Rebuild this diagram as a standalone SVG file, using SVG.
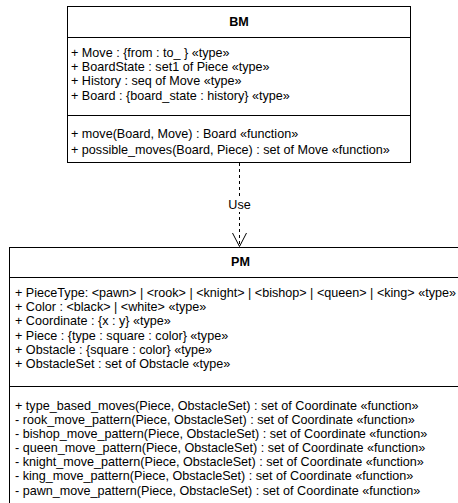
<svg xmlns="http://www.w3.org/2000/svg" width="458" height="503" viewBox="0 0 458 503">
<style>
.box{fill:#fff;stroke:#000;stroke-width:1}
.sep{stroke:#000;stroke-width:1}
text{font-family:"Liberation Sans",Arial,sans-serif;font-size:12.6px;fill:#000}
.title{font-weight:bold;text-anchor:middle}
.lbl{text-anchor:middle}
.dep{fill:none;stroke:#000;stroke-width:1;stroke-dasharray:3 3}
</style>
<rect width="458" height="503" fill="#fff"/>
<g id="connectors">
<line class="dep" x1="239.5" y1="163" x2="239.5" y2="246"/>
<rect x="226" y="197" width="27" height="15" fill="#fff"/>
<text class="lbl" x="239.5" y="209">Use</text>
<polyline fill="none" stroke="#000" stroke-width="1" points="232.5,233 239.5,246.5 246.5,233"/>
</g>
<g id="BM">
<rect class="box" x="67.5" y="6.5" width="343" height="156"/>
<line class="sep" x1="67.5" y1="37.5" x2="410.5" y2="37.5"/>
<line class="sep" x1="67.5" y1="115.5" x2="410.5" y2="115.5"/>
<text class="title" x="239" y="26">BM</text>
<text x="71" y="57">+ Move : {from : to_ } «type»</text>
<text x="71" y="71">+ BoardState : set1 of Piece «type»</text>
<text x="71" y="85">+ History : seq of Move «type»</text>
<text x="71" y="99.5">+ Board : {board_state : history} «type»</text>
<text x="71" y="137.5">+ move(Board, Move) : Board «function»</text>
<text x="71" y="153.5">+ possible_moves(Board, Piece) : set of Move «function»</text>
</g>
<g id="PM">
<rect class="box" x="9.5" y="247.5" width="462" height="270"/>
<line class="sep" x1="9.5" y1="277.5" x2="471.5" y2="277.5"/>
<line class="sep" x1="9.5" y1="386.5" x2="471.5" y2="386.5"/>
<text class="title" x="240.5" y="266">PM</text>
<text x="15" y="297">+ PieceType: &lt;pawn&gt; | &lt;rook&gt; | &lt;knight&gt; | &lt;bishop&gt; | &lt;queen&gt; | &lt;king&gt; «type»</text>
<text x="15" y="311">+ Color : &lt;black&gt; | &lt;white&gt; «type»</text>
<text x="15" y="325">+ Coordinate : {x : y} «type»</text>
<text x="15" y="340">+ Piece : {type : square : color} «type»</text>
<text x="15" y="354">+ Obstacle : {square : color} «type»</text>
<text x="15" y="368">+ ObstacleSet : set of Obstacle «type»</text>
<text x="15" y="410">+ type_based_moves(Piece, ObstacleSet) : set of Coordinate «function»</text>
<text x="15" y="424">- rook_move_pattern(Piece, ObstacleSet) : set of Coordinate «function»</text>
<text x="15" y="438">- bishop_move_pattern(Piece, ObstacleSet) : set of Coordinate «function»</text>
<text x="15" y="452">- queen_move_pattern(Piece, ObstacleSet) : set of Coordinate «function»</text>
<text x="15" y="466">- knight_move_pattern(Piece, ObstacleSet) : set of Coordinate «function»</text>
<text x="15" y="480">- king_move_pattern(Piece, ObstacleSet) : set of Coordinate «function»</text>
<text x="15" y="495">- pawn_move_pattern(Piece, ObstacleSet) : set of Coordinate «function»</text>
</g>
</svg>
